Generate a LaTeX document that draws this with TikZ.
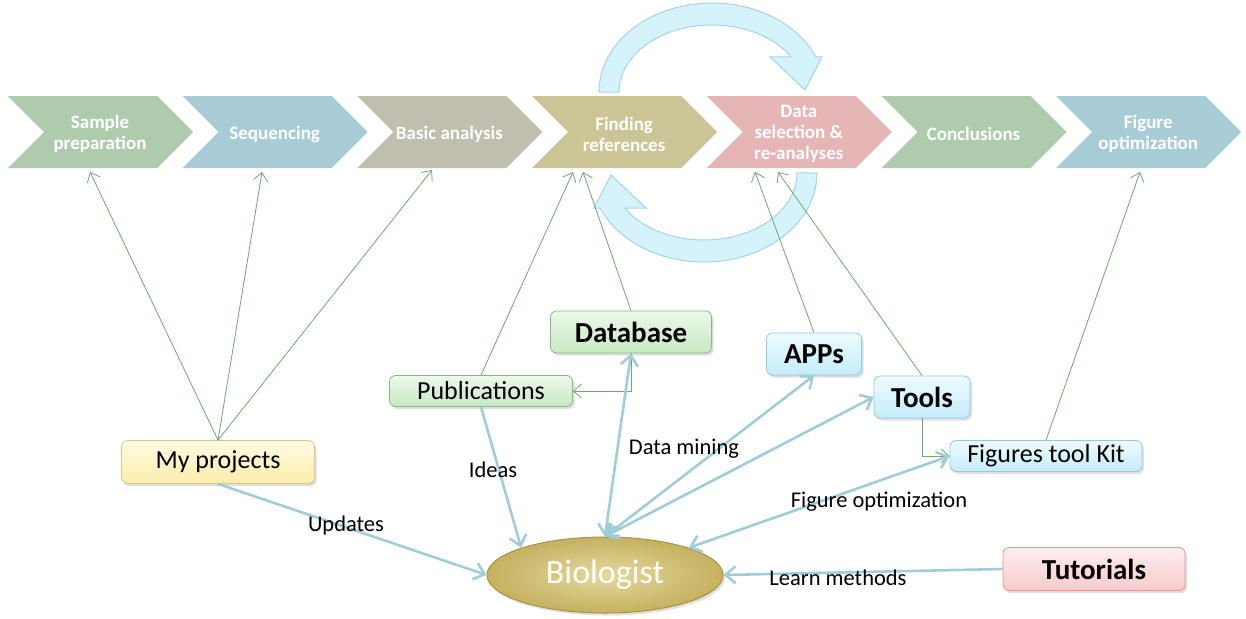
\documentclass[tikz,border=0pt]{standalone}
\usepackage{fontspec}
\setmainfont{Carlito}
\usetikzlibrary{arrows.meta, shadows, shapes.geometric}
\definecolor{stgA}{RGB}{174,203,174}
\definecolor{stgB}{RGB}{168,204,214}
\definecolor{stgC}{RGB}{192,190,174}
\definecolor{stgD}{RGB}{203,196,148}
\definecolor{stgE}{RGB}{230,181,181}
\definecolor{linkG}{RGB}{115,165,115}
\definecolor{linkB}{RGB}{160,205,216}
\definecolor{loopFill}{RGB}{214,243,252}
\definecolor{loopEdge}{RGB}{165,212,230}
\definecolor{boxGt}{RGB}{238,248,236}
\definecolor{boxGb}{RGB}{198,232,194}
\definecolor{boxGd}{RGB}{132,188,128}
\definecolor{boxBt}{RGB}{238,251,255}
\definecolor{boxBb}{RGB}{196,236,250}
\definecolor{boxBd}{RGB}{150,202,218}
\definecolor{boxYt}{RGB}{255,251,228}
\definecolor{boxYb}{RGB}{253,236,172}
\definecolor{boxYd}{RGB}{216,200,140}
\definecolor{boxRt}{RGB}{255,238,238}
\definecolor{boxRb}{RGB}{250,202,202}
\definecolor{boxRd}{RGB}{226,152,152}
\definecolor{bioIn}{RGB}{228,216,158}
\definecolor{bioOut}{RGB}{196,178,96}
\definecolor{bioEdge}{RGB}{168,148,70}

\begin{document}
\begin{tikzpicture}[x=1pt, y=-1pt,
        stagetext/.style={text=white, font=\fontsize{19}{21}\selectfont\bfseries, align=center, inner sep=0pt},
        box/.style={rectangle, rounded corners=6pt, line width=0.8pt, inner sep=0pt,
                    drop shadow={opacity=0.25, shadow xshift=2pt, shadow yshift=-2.5pt}},
        plain/.style={font=\fontsize{26}{28}\selectfont},
        strong/.style={font=\fontsize{29}{31}\selectfont\bfseries},
        greenbox/.style={box, draw=boxGd, top color=boxGt, bottom color=boxGb},
        bluebox/.style={box, draw=boxBd, top color=boxBt, bottom color=boxBb},
        yellowbox/.style={box, draw=boxYd, top color=boxYt, bottom color=boxYb},
        redbox/.style={box, draw=boxRd, top color=boxRt, bottom color=boxRb},
        loopband/.style={fill=loopFill, draw=loopEdge, line width=1pt},
        lbl/.style={font=\fontsize{22.5}{24}\selectfont, inner sep=0pt},
        thinlink/.style={draw=linkG, line width=0.8pt, -{Straight Barb[length=8pt, width=14pt]}},
        thicklink/.style={draw=linkB, line width=2.6pt, -{Straight Barb[length=10pt, width=17pt]}},
        duallink/.style={draw=linkB, line width=2.6pt,
                         {Straight Barb[length=10pt, width=17pt]}-{Straight Barb[length=10pt, width=17pt]}}
    ]
    \fill[white] (0,0) rectangle (1246,618);
    \useasboundingbox (0,0) rectangle (1246,618);

    % workflow stages
    \foreach \i/\col/\txt in {0/stgA/{Sample\\preparation}, 1/stgB/Sequencing, 2/stgC/Basic analysis,
                              3/stgD/{Finding\\references}, 4/stgE/{Data\\selection \&\\re-analyses},
                              5/stgA/Conclusions, 6/stgB/{Figure\\optimization}} {
        \fill[\col] ({8+174.7*\i},96) -- ++(149,0) -- ++(36,36) -- ++(-36,36) -- ++(-149,0) -- ++(36,-36) -- cycle;
        \node[stagetext] (s\i) at ({100+174.7*\i},134) {\txt};
    }

    % loop between finding references and re-analyses
    \path[loopband] (599,92) arc[start angle=180, end angle=23.2, x radius=113pt, y radius=89pt]
        -- (822,57) -- (805,90) -- (770,57) -- (791.3,57)
        arc[start angle=31.5, end angle=180, x radius=93pt, y radius=67pt] -- cycle;
    \path[loopband] (817,173) arc[start angle=0, end angle=-156.8, x radius=113pt, y radius=89pt]
        -- (594,208) -- (611,175) -- (646,208) -- (624.7,208)
        arc[start angle=-148.5, end angle=0, x radius=93pt, y radius=67pt] -- cycle;

    \node[yellowbox, plain, minimum width=193pt, minimum height=43pt] (myproj) at (218,462) {My projects};
    \node[greenbox, plain, minimum width=183pt, minimum height=31pt] (pub) at (481,391) {Publications};
    \node[greenbox, strong, minimum width=161pt, minimum height=42pt] (db) at (631,332) {Database};
    \node[bluebox, strong, minimum width=95pt, minimum height=42pt] (apps) at (814,354) {APPs};
    \node[bluebox, strong, minimum width=96pt, minimum height=42pt] (tools) at (922,397) {Tools};
    \node[bluebox, plain, minimum width=192pt, minimum height=31pt] (figkit) at (1046,456) {Figures tool Kit};
    \node[redbox, strong, minimum width=182pt, minimum height=43pt] (tut) at (1094,569) {Tutorials};
    \node[ellipse, draw=bioEdge, line width=1pt, inner color=bioIn, outer color=bioOut,
          minimum width=236pt, minimum height=76pt, text=white, font=\fontsize{34}{36}\selectfont,
          drop shadow={opacity=0.25, shadow xshift=2pt, shadow yshift=-2.5pt}] (bio) at (605,575) {Biologist};

    % where the thin arrows meet the stages
    \coordinate (t1) at (90,172);
    \coordinate (t2) at (262,172);
    \coordinate (t3) at (432,170);
    \coordinate (t4) at (573,172);
    \coordinate (t5) at (583,172);
    \coordinate (t6) at (755,172);
    \coordinate (t7) at (778,172);
    \coordinate (t8) at (1140,172);

    \foreach \a/\b in {myproj/t1, myproj/t2, myproj/t3, pub/t4, db/t5, apps/t6, tools/t7, figkit/t8}
        \draw[thinlink] (\a.north) -- (\b);
    \draw[thinlink] (db.south) |- (pub.east);
    \draw[thinlink] (tools.south) |- (figkit.west);

    \draw[thicklink] (myproj.south) -- (bio.west);
    \draw[thicklink] (pub.south) -- (bio.north west);
    \draw[thicklink] (tut.west) -- (bio.east);
    \foreach \n/\e in {db/south, apps/south, tools/west}
        \draw[duallink] (bio.north) -- (\n.\e);
    \draw[duallink] (bio.north east) -- (figkit.west);

    \node[lbl] (lupd) at (346,525) {Updates};
    \node[lbl] (lidea) at (493,470) {Ideas};
    \node[lbl] (lmine) at (684,449) {Data mining};
    \node[lbl] (lfig) at (879,502) {Figure optimization};
    \node[lbl] (llearn) at (838,578) {Learn methods};
\end{tikzpicture}
\end{document}
